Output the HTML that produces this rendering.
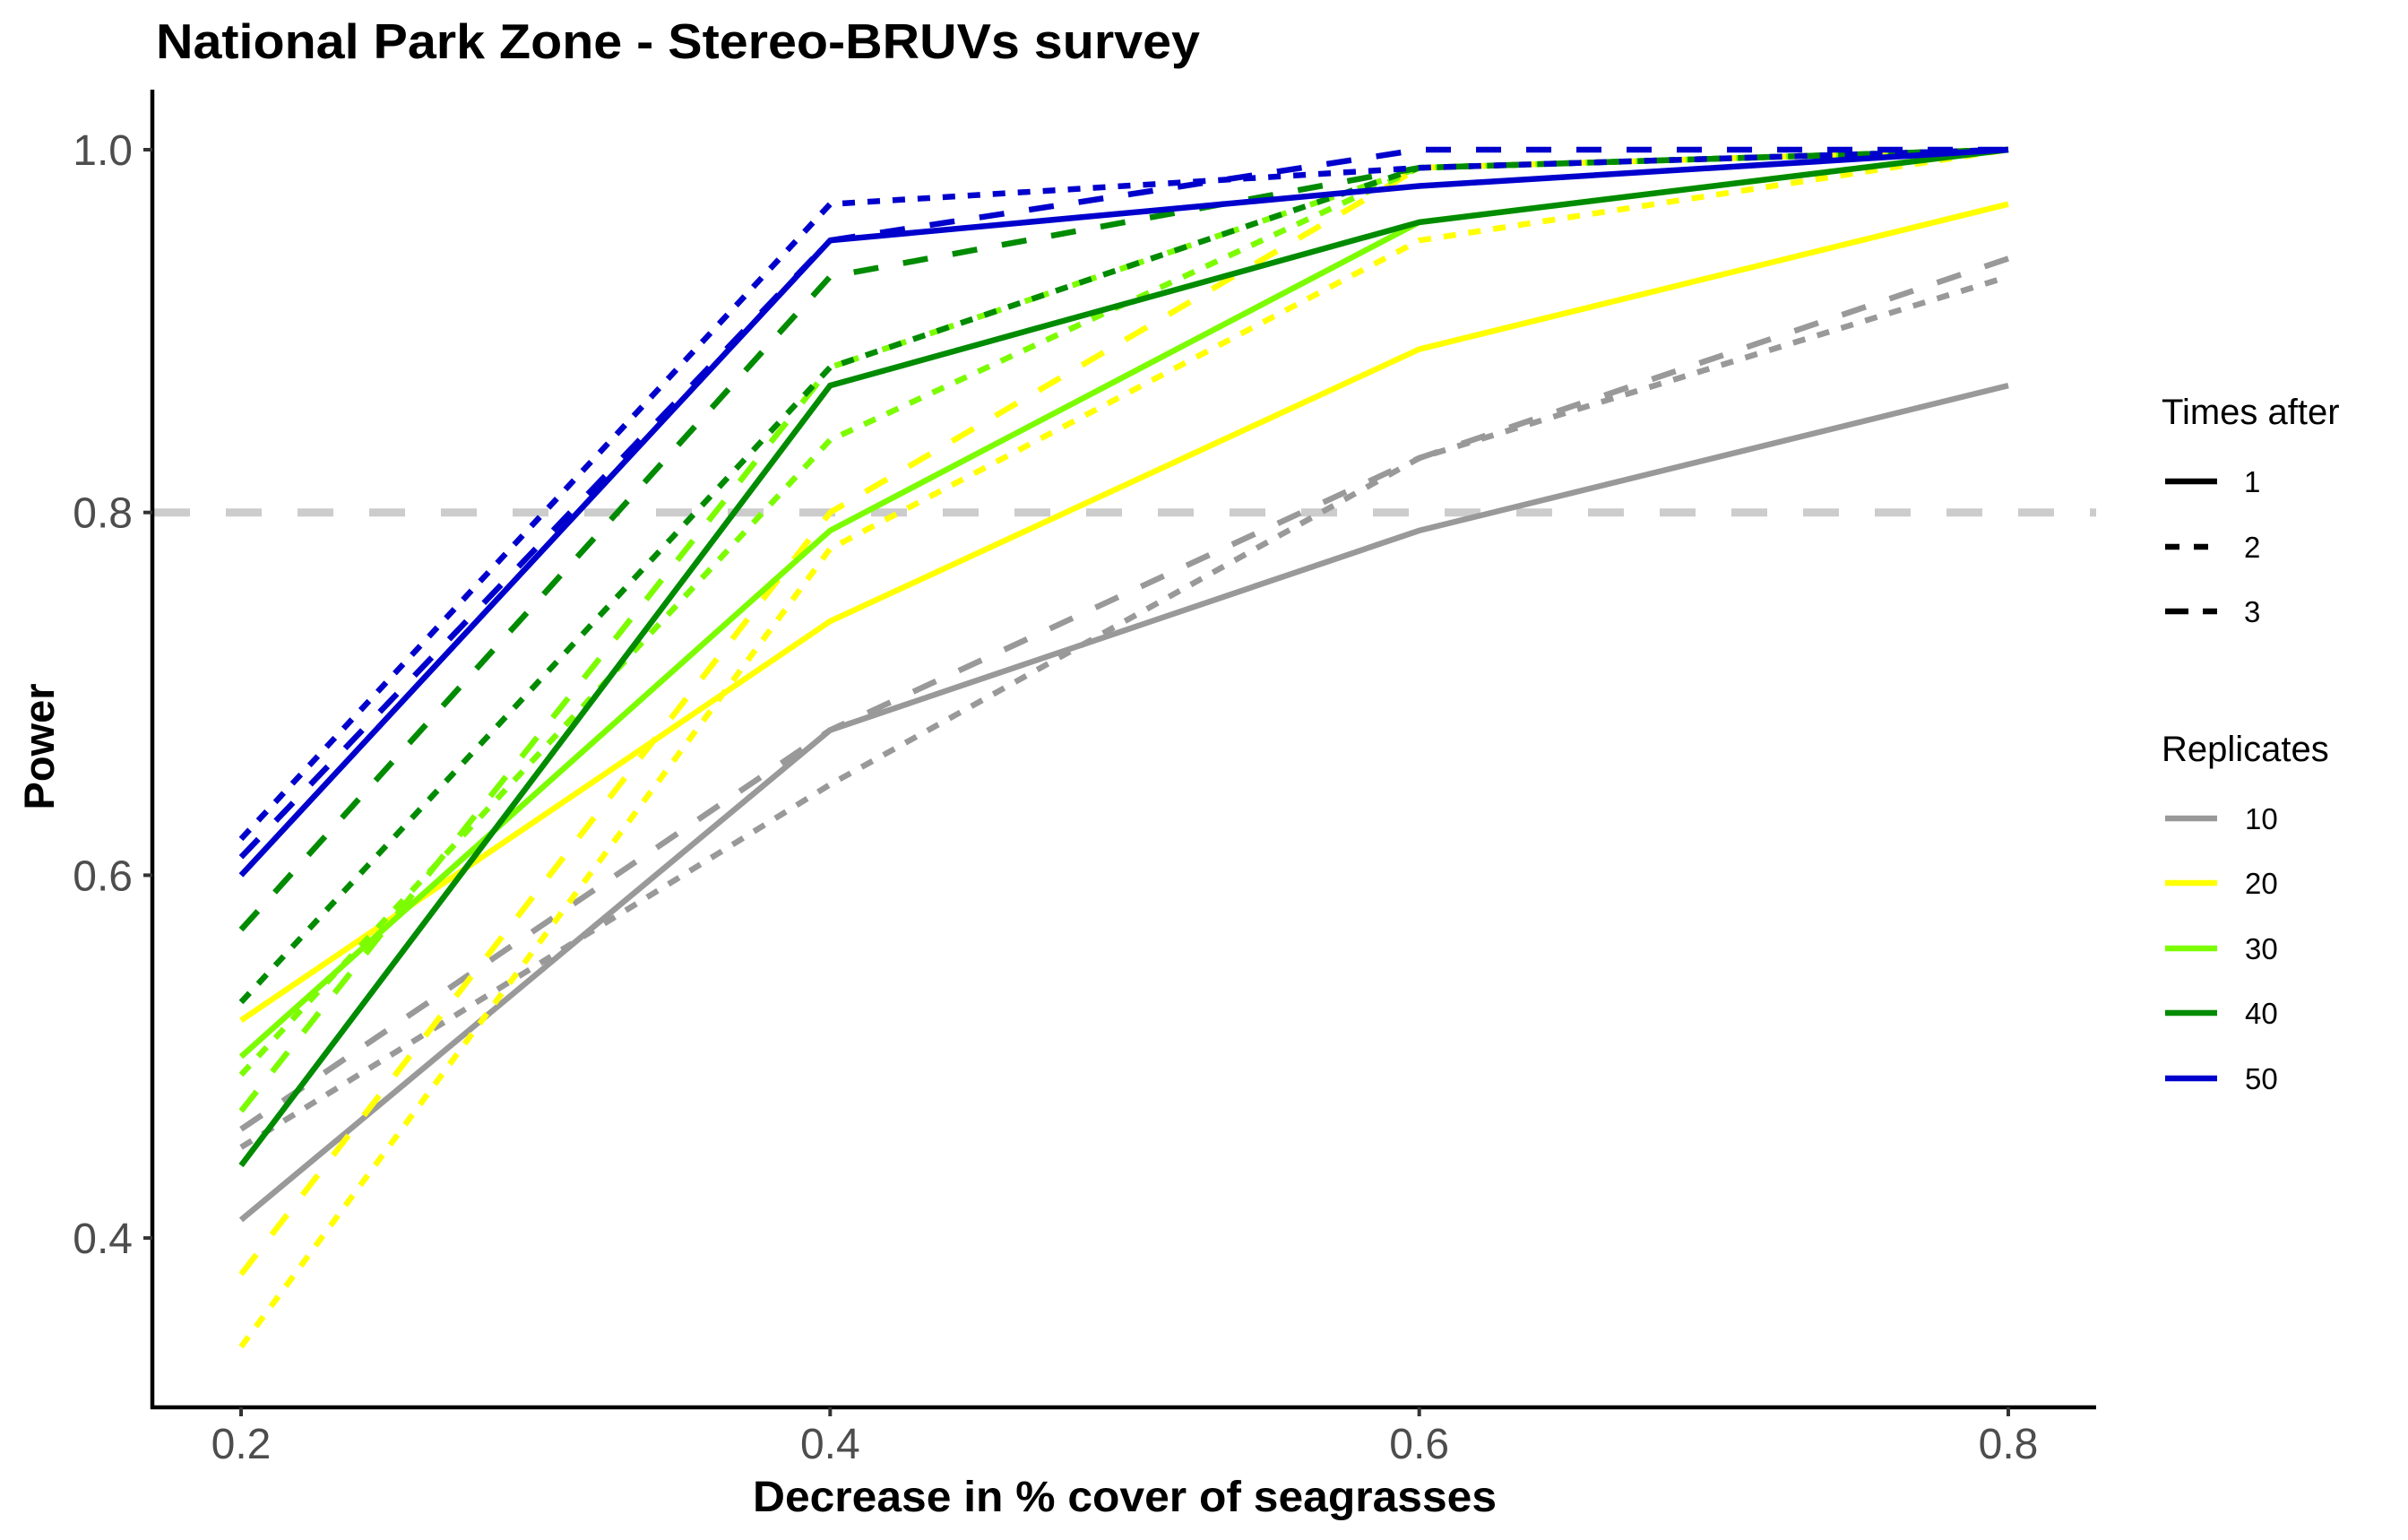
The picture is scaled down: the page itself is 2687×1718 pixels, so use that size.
<!DOCTYPE html>
<html><head><meta charset="utf-8"><style>
html,body{margin:0;padding:0;background:#fff;}
svg{display:block;font-family:"Liberation Sans",Arial,sans-serif;}
</style></head><body>
<svg id="chart" width="2687" height="1718" viewBox="0 0 2687 1718" xmlns="http://www.w3.org/2000/svg">
<rect width="2687" height="1718" fill="#fff"/>
<text x="174" y="65" font-size="55" font-weight="bold" fill="#000" textLength="1165" lengthAdjust="spacingAndGlyphs">National Park Zone - Stereo-BRUVs survey</text>
<g id="grid"></g>
<g id="series"></g>
<g id="axes"></g>
<text x="1255" y="1686" font-size="48" font-weight="bold" text-anchor="middle" fill="#000" textLength="830" lengthAdjust="spacingAndGlyphs">Decrease in % cover of seagrasses</text>
<text transform="translate(60,833) rotate(-90)" font-size="47" font-weight="bold" text-anchor="middle" fill="#000">Power</text>
<g id="legend"></g>
</svg>
<script>
const xValues = [0.2, 0.4, 0.6, 0.8];
const xTicks = [0.2, 0.4, 0.6, 0.8];
const yTicks = [0.4, 0.6, 0.8, 1.0];
const referencePower = 0.8;
const replicates = ["10", "20", "30", "40", "50"];
const timesAfter = ["1", "2", "3"];
const power_10_t1 = [0.41, 0.68, 0.79, 0.87];
const power_10_t2 = [0.45, 0.65, 0.83, 0.93];
const power_10_t3 = [0.46, 0.68, 0.83, 0.94];
const power_20_t1 = [0.52, 0.74, 0.89, 0.97];
const power_20_t2 = [0.34, 0.78, 0.95, 1.0];
const power_20_t3 = [0.38, 0.80, 0.99, 1.0];
const power_30_t1 = [0.50, 0.79, 0.96, 1.0];
const power_30_t2 = [0.49, 0.84, 0.99, 1.0];
const power_30_t3 = [0.47, 0.88, 0.99, 1.0];
const power_40_t1 = [0.44, 0.87, 0.96, 1.0];
const power_40_t2 = [0.53, 0.88, 0.99, 1.0];
const power_40_t3 = [0.57, 0.93, 0.99, 1.0];
const power_50_t1 = [0.60, 0.95, 0.98, 1.0];
const power_50_t2 = [0.62, 0.97, 0.99, 1.0];
const power_50_t3 = [0.61, 0.95, 1.0, 1.0];

const seriesData = {
  "10": [power_10_t1, power_10_t2, power_10_t3],
  "20": [power_20_t1, power_20_t2, power_20_t3],
  "30": [power_30_t1, power_30_t2, power_30_t3],
  "40": [power_40_t1, power_40_t2, power_40_t3],
  "50": [power_50_t1, power_50_t2, power_50_t3]
};
const colors = {"10":"#999999","20":"#FFFF00","30":"#7CFC00","40":"#008B00","50":"#0000CD"};
const dashes = ["", "14 14", "28 28"];
const NS = "http://www.w3.org/2000/svg";
function xs(v){ return 269 + (v - 0.2) / 0.6 * 1972; }
function ys(v){ return 167 + (1.0 - v) / 0.2 * 404.7; }
function mk(tag, attrs, parent){ const e=document.createElementNS(NS,tag); for(const k in attrs) e.setAttribute(k,attrs[k]); parent.appendChild(e); return e; }

const grid=document.getElementById('grid');
const ref = mk('line',{x1:172,x2:2339,y1:ys(referencePower),y2:ys(referencePower),stroke:'#CCCCCC','stroke-width':9,'stroke-dasharray':'40 40'},grid);



const sg=document.getElementById('series');
replicates.forEach(r=>{
  seriesData[r].forEach((vals,ti)=>{
    const pts = vals.map((v,i)=>xs(xValues[i]).toFixed(1)+','+ys(v).toFixed(1)).join(' ');
    const pl = mk('polyline',{points:pts,fill:'none',stroke:colors[r],'stroke-width':6.5,'stroke-dasharray':dashes[ti]},sg);
    
    
  });
});

const ax=document.getElementById('axes');
const yl = mk('line',{x1:170,x2:170,y1:100,y2:1572,stroke:'#000','stroke-width':4.5},ax);


const xl = mk('line',{x1:168,x2:2339,y1:1570,y2:1570,stroke:'#000','stroke-width':4.5},ax);


yTicks.forEach(t=>{
  const tk=mk('line',{x1:160,x2:170,y1:ys(t),y2:ys(t),stroke:'#333','stroke-width':4},ax);
  
  
  const tx=mk('text',{x:148,y:ys(t)+17,'font-size':48,'text-anchor':'end',fill:'#4D4D4D'},ax);
  tx.textContent=t.toFixed(1);
  
  
});
xTicks.forEach(t=>{
  const tk=mk('line',{x1:xs(t),x2:xs(t),y1:1570,y2:1580,stroke:'#333','stroke-width':4},ax);
  
  
  const tx=mk('text',{x:xs(t),y:1627,'font-size':48,'text-anchor':'middle',fill:'#4D4D4D'},ax);
  tx.textContent=t.toFixed(1);
  
  
});

const lg=document.getElementById('legend');
const t1=mk('text',{x:2412,y:473,'font-size':40,fill:'#000'},lg);
t1.textContent='Times after';


const legDash=["","16 16","26 16"];
const timeY=[537,610,682];
timesAfter.forEach((t,i)=>{
  const l=mk('line',{x1:2416,x2:2474,y1:timeY[i],y2:timeY[i],stroke:'#000','stroke-width':6.5,'stroke-dasharray':legDash[i]},lg);
  
  
  const tx=mk('text',{x:2504,y:timeY[i]+12,'font-size':33,fill:'#000'},lg);
  tx.textContent=t;
  
  
});
const t2=mk('text',{x:2412,y:849,'font-size':40,fill:'#000'},lg);
t2.textContent='Replicates';


const repY=[913,985,1058,1130,1203];
replicates.forEach((r,i)=>{
  const l=mk('line',{x1:2416,x2:2474,y1:repY[i],y2:repY[i],stroke:colors[r],'stroke-width':6.5},lg);
  
  
  const tx=mk('text',{x:2505,y:repY[i]+12,'font-size':33,fill:'#000'},lg);
  tx.textContent=r;
  
  
});
</script>
</body></html>
